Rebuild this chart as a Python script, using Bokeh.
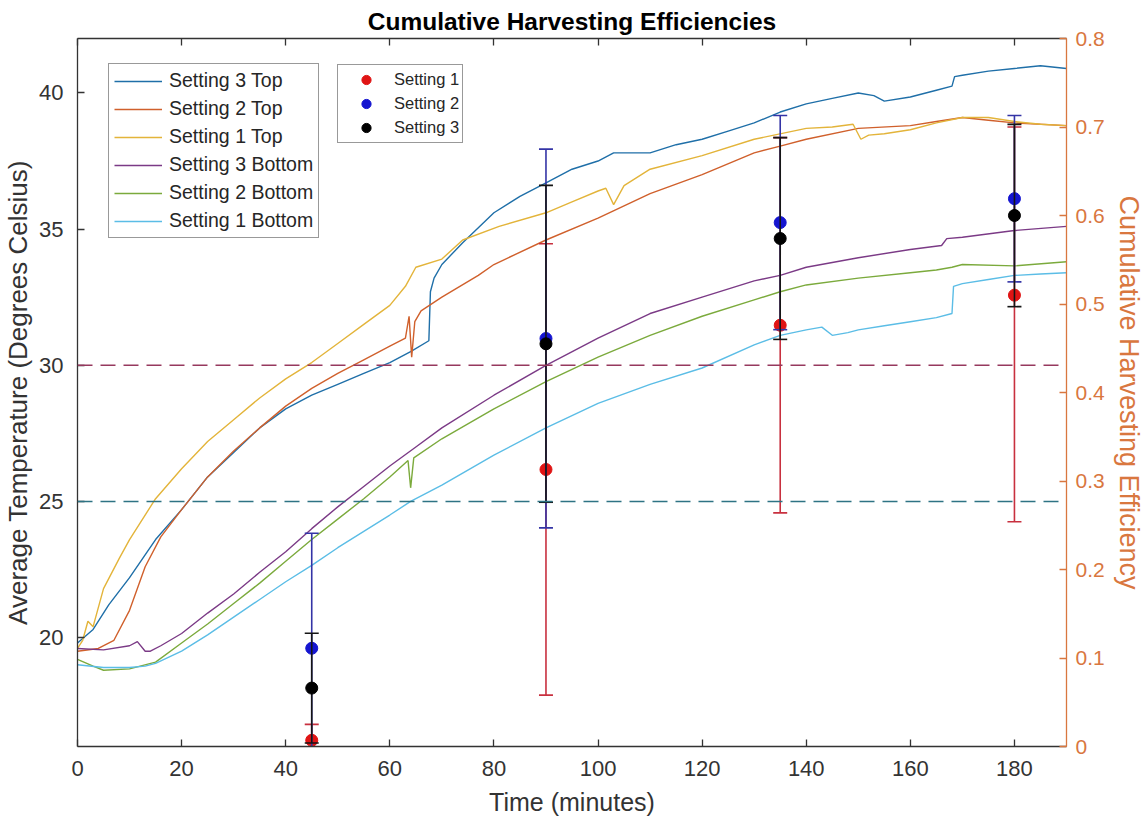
from bokeh.plotting import figure
from bokeh.models import (Range1d, LinearAxis, FixedTicker, Legend, LegendItem, Span)
from bokeh.embed import file_html
from bokeh.resources import INLINE

FONT = "Liberation Sans"
TXT = "#262626"
ORANGE = "#D9773F"

# ---- temperature traces (minutes, degrees C) ----
s3_top_t = [0, 3, 6, 10, 15, 20, 25, 30, 35, 40, 45, 50, 55, 60, 64, 67.5, 67.8, 68.5, 70, 74, 80, 85, 90,
            95, 100, 103, 110, 115, 120, 125, 130, 135, 140, 145, 150, 153, 155, 160, 165, 168, 168.5, 170,
            175, 180, 185, 190]
s3_top_T = [19.8, 20.3, 21.2, 22.2, 23.6, 24.7, 25.9, 26.8, 27.7, 28.4, 28.9, 29.3, 29.7, 30.1, 30.5, 30.9,
            32.7, 33.2, 33.7, 34.5, 35.6, 36.2, 36.7, 37.2, 37.5, 37.8, 37.8, 38.1, 38.3, 38.6, 38.9, 39.3,
            39.6, 39.8, 40.0, 39.9, 39.7, 39.85, 40.1, 40.25, 40.6, 40.65, 40.8, 40.9, 41.0, 40.9]

s2_top_t = [0, 4, 7, 10, 13, 16, 20, 25, 30, 35, 40, 45, 50, 55, 60, 63, 63.7, 64.2, 64.8, 66, 70, 77, 80,
            90, 100, 110, 120, 130, 135, 140, 150, 160, 165, 170, 175, 180, 190]
s2_top_T = [19.5, 19.6, 19.9, 21.0, 22.6, 23.7, 24.7, 25.9, 26.85, 27.7, 28.5, 29.15, 29.7, 30.2, 30.7, 31.0,
            31.8, 30.3, 31.6, 32.0, 32.5, 33.3, 33.7, 34.6, 35.4, 36.3, 37.0, 37.8, 38.05, 38.3, 38.7, 38.8,
            38.95, 39.1, 39.0, 38.9, 38.8]

s1_top_t = [0, 1, 2, 3, 5, 8, 10, 15, 20, 25, 30, 35, 40, 45, 50, 55, 60, 63, 65, 70, 74, 81, 90, 95, 100,
            101.5, 103, 105, 110, 120, 130, 140, 145, 149, 150.5, 152, 155, 160, 165, 170, 175, 180, 185, 190]
s1_top_T = [19.6, 19.9, 20.6, 20.4, 21.8, 22.9, 23.6, 25.1, 26.2, 27.2, 28.0, 28.8, 29.5, 30.1, 30.8, 31.5,
            32.2, 32.9, 33.6, 33.9, 34.6, 35.1, 35.6, 36.0, 36.4, 36.5, 35.9, 36.6, 37.2, 37.7, 38.3, 38.7,
            38.75, 38.85, 38.3, 38.45, 38.5, 38.65, 38.9, 39.1, 39.1, 38.95, 38.85, 38.8]

s3_bot_t = [0, 5, 10, 11.5, 13, 14, 16, 20, 25, 30, 35, 40, 45, 50, 55, 60, 65, 70, 80, 90, 100, 110, 120,
            130, 135, 140, 150, 160, 166, 167, 170, 180, 190]
s3_bot_T = [19.6, 19.55, 19.7, 19.85, 19.5, 19.5, 19.7, 20.15, 20.9, 21.6, 22.4, 23.15, 24.0, 24.8, 25.55,
            26.3, 27.0, 27.7, 28.9, 30.0, 31.0, 31.9, 32.5, 33.1, 33.3, 33.6, 33.95, 34.25, 34.4, 34.65,
            34.7, 34.95, 35.1]

s2_bot_t = [0, 3, 5, 10, 15, 20, 25, 30, 35, 40, 45, 50, 55, 60, 63.5, 64, 64.6, 70, 80, 90, 100, 110, 120,
            130, 135, 140, 150, 160, 165, 168, 170, 180, 190]
s2_bot_T = [19.2, 18.95, 18.8, 18.85, 19.1, 19.8, 20.5, 21.25, 22.0, 22.8, 23.6, 24.35, 25.1, 25.9, 26.5,
            25.5, 26.6, 27.3, 28.4, 29.4, 30.3, 31.1, 31.8, 32.4, 32.7, 32.95, 33.2, 33.4, 33.5, 33.6, 33.7,
            33.65, 33.8]

s1_bot_t = [0, 5, 10, 13, 15, 20, 25, 30, 35, 40, 45, 50, 55, 60, 64, 70, 80, 90, 100, 110, 120, 130, 135,
            140, 143, 145, 148, 150, 155, 160, 165, 168, 168.3, 170, 175, 180, 185, 190]
s1_bot_T = [19.0, 18.9, 18.9, 18.95, 19.05, 19.5, 20.1, 20.75, 21.4, 22.05, 22.65, 23.3, 23.9, 24.5, 25.0,
            25.6, 26.7, 27.7, 28.6, 29.3, 29.9, 30.75, 31.1, 31.3, 31.4, 31.1, 31.2, 31.3, 31.45, 31.6,
            31.75, 31.9, 32.9, 33.0, 33.15, 33.3, 33.35, 33.4]

series_names = ["Setting 3 Top", "Setting 2 Top", "Setting 1 Top",
                "Setting 3 Bottom", "Setting 2 Bottom", "Setting 1 Bottom"]
series_colors = ["#1F6FA8", "#D0602C", "#E3B43A", "#7B3A86", "#7BAA3C", "#5BBDE6"]

# ---- threshold temperatures ----
thresholds = [30, 25]
threshold_colors = ["#96395E", "#2E7384"]

# ---- cumulative harvesting efficiency: mean, error below, error above ----
eff_times = [45, 90, 135, 180]
eff_s1 = [0.007, 0.313, 0.476, 0.510]
eff_s1_lo = [0.018, 0.255, 0.212, 0.256]
eff_s1_hi = [0.018, 0.255, 0.212, 0.190]
eff_s2 = [0.111, 0.461, 0.592, 0.619]
eff_s2_lo = [0.130, 0.214, 0.121, 0.094]
eff_s2_hi = [0.130, 0.214, 0.121, 0.094]
eff_s3 = [0.066, 0.455, 0.574, 0.600]
eff_s3_lo = [0.062, 0.179, 0.114, 0.103]
eff_s3_hi = [0.062, 0.179, 0.114, 0.103]

x_ticks = [0, 20, 40, 60, 80, 100, 120, 140, 160, 180]
y_ticks = [20, 25, 30, 35, 40]
eff_ticks = [0, 0.1, 0.2, 0.3, 0.4, 0.5, 0.6, 0.7, 0.8]
eff_tick_labels = ["0", "0.1", "0.2", "0.3", "0.4", "0.5", "0.6", "0.7", "0.8"]

p = figure(width=1146, height=819, x_range=Range1d(0, 190), y_range=Range1d(16, 42),
           output_backend="svg", toolbar_location=None,
           min_border_left=77, min_border_right=80, min_border_top=38, min_border_bottom=73)
p.extra_y_ranges = {"eff": Range1d(0, 0.8)}
p.outline_line_color = None
p.grid.visible = False
p.background_fill_color = "white"

p.title.text = "Cumulative Harvesting Efficiencies"
p.title.align = "center"
p.title.text_font = FONT
p.title.text_font_size = "24.5px"
p.title.text_font_style = "bold"
p.title.text_color = "black"
p.title.standoff = 8


def style_axis(ax, color, size="22px", label_size="26px"):
    ax.axis_line_color = color
    ax.axis_line_width = 1.3
    ax.major_tick_line_color = color
    ax.major_tick_line_width = 1.3
    ax.major_tick_in = 7
    ax.major_tick_out = 0
    ax.minor_tick_line_color = None
    ax.major_label_text_font = FONT
    ax.major_label_text_font_size = size
    ax.major_label_text_color = color
    ax.axis_label_text_font = FONT
    ax.axis_label_text_font_size = label_size
    ax.axis_label_text_font_style = "normal"
    ax.axis_label_text_color = color


xa = p.xaxis[0]
style_axis(xa, "#333333", label_size="25px")
xa.ticker = FixedTicker(ticks=x_ticks)
xa.axis_label = "Time (minutes)"
xa.major_label_standoff = 14
xa.axis_label_standoff = 9

ya = p.yaxis[0]
style_axis(ya, "#333333")
ya.ticker = FixedTicker(ticks=y_ticks)
ya.axis_label = "Average Temperature (Degrees Celsius)"
ya.major_label_standoff = 14
ya.axis_label_standoff = 3

# box-style top edge: tick marks only
top_axis = LinearAxis(ticker=FixedTicker(ticks=x_ticks))
style_axis(top_axis, "#333333", size="1px")
top_axis.major_label_overrides = {t: "" for t in x_ticks}
top_axis.major_label_standoff = 0
p.add_layout(top_axis, "above")

ra = LinearAxis(y_range_name="eff", ticker=FixedTicker(ticks=eff_ticks),
                axis_label="Cumulative Harvesting Efficiency")
style_axis(ra, ORANGE, size="21px", label_size="27px")
ra.major_label_overrides = dict(zip(eff_ticks, eff_tick_labels))
ra.major_label_standoff = 9
ra.axis_label_standoff = 6
p.add_layout(ra, "right")

# temperature traces
traces = [(s3_top_t, s3_top_T), (s2_top_t, s2_top_T), (s1_top_t, s1_top_T),
          (s3_bot_t, s3_bot_T), (s2_bot_t, s2_bot_T), (s1_bot_t, s1_bot_T)]
line_renderers = []
for (t, T), c in zip(traces, series_colors):
    line_renderers.append(p.line(t, T, line_color=c, line_width=1.4))

for level, c in zip(thresholds, threshold_colors):
    p.add_layout(Span(location=level, dimension="width", line_color=c, line_width=1.5,
                      line_dash="15 8"))

# efficiency error bars on the right axis
eb_sets = [(eff_s1, eff_s1_lo, eff_s1_hi, "#C8303F", "#E01414"),
           (eff_s2, eff_s2_lo, eff_s2_hi, "#3434A6", "#1515D0"),
           (eff_s3, eff_s3_lo, eff_s3_hi, "#151515", "#000000")]
marker_renderers = []
for mean, elo, ehi, lc, mc in eb_sets:
    lo = [m - e for m, e in zip(mean, elo)]
    hi = [m + e for m, e in zip(mean, ehi)]
    p.segment(x0=eff_times, y0=lo, x1=eff_times, y1=hi, line_color=lc, line_width=1.6,
              y_range_name="eff")
    p.scatter(x=eff_times, y=lo, marker="dash", size=14, line_color=lc, line_width=1.6,
              y_range_name="eff")
    p.scatter(x=eff_times, y=hi, marker="dash", size=14, line_color=lc, line_width=1.6,
              y_range_name="eff")
    marker_renderers.append(p.scatter(x=eff_times, y=mean, marker="circle", size=12,
                                      fill_color=mc, line_color=mc, y_range_name="eff"))

leg1 = Legend(items=[LegendItem(label=n, renderers=[r]) for n, r in zip(series_names, line_renderers)],
              location=(31, 508), orientation="vertical",
              label_text_font=FONT, label_text_font_size="19.5px", label_text_color=TXT,
              label_height=22, glyph_height=22, glyph_width=48, label_standoff=7,
              spacing=5, padding=5, margin=0,
              border_line_color="#333333", border_line_width=1.3,
              background_fill_color="white", background_fill_alpha=1)
p.add_layout(leg1, "center")

leg2 = Legend(items=[LegendItem(label=n, renderers=[r]) for n, r in
                     zip(["Setting 1", "Setting 2", "Setting 3"], marker_renderers)],
              location=(260, 603), orientation="vertical",
              label_text_font=FONT, label_text_font_size="16.5px", label_text_color=TXT,
              label_height=23, glyph_height=23, glyph_width=50, label_standoff=3,
              spacing=1, padding=3, margin=0,
              border_line_color="#333333", border_line_width=1.3,
              background_fill_color="white", background_fill_alpha=1)
p.add_layout(leg2, "center")

open("out.html", "w").write(file_html(p, INLINE))
